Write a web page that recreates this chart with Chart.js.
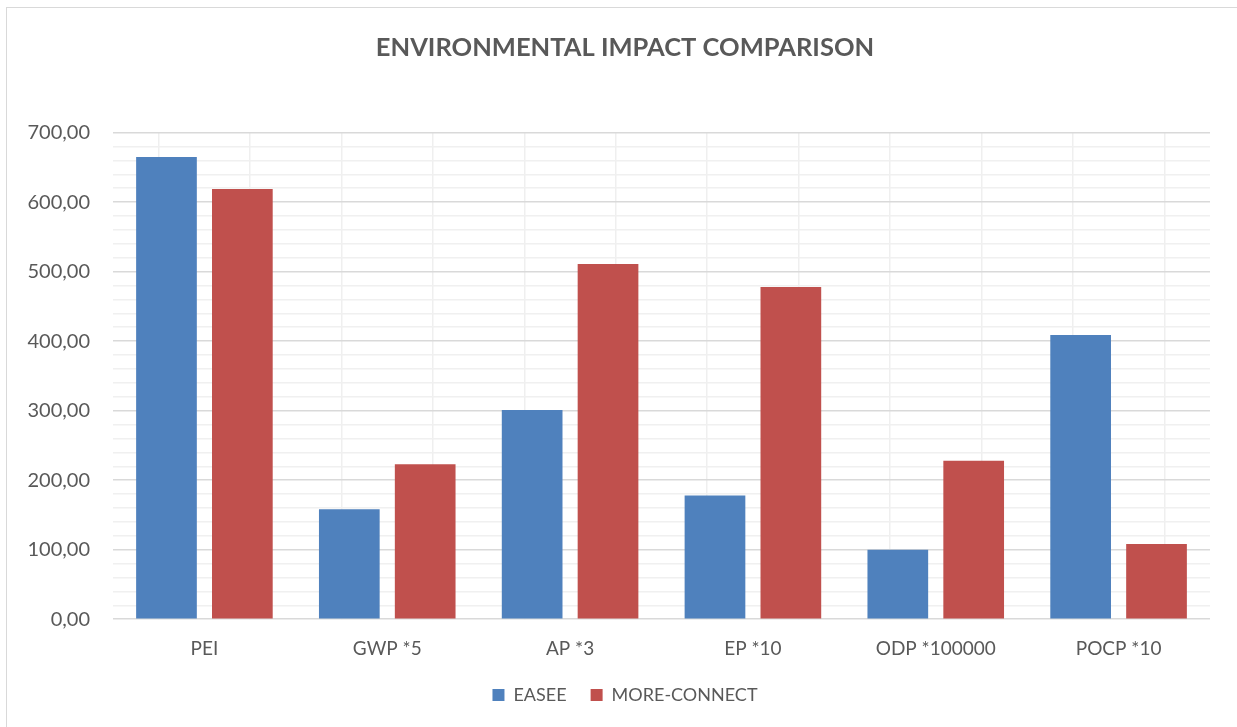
<!DOCTYPE html>
<html>
<head>
<meta charset="utf-8">
<script src="https://cdn.jsdelivr.net/npm/chart.js@4/dist/chart.umd.min.js"></script>
<style>
  html, body { margin: 0; padding: 0; background: #fff; overflow: hidden; }
  #frame { position: absolute; left: 6px; top: 7px; width: 1300px; height: 800px; border: 1px solid #d9d9d9; }
  #wrap { position: absolute; left: 0; top: 0; width: 1237px; height: 727px; }
</style>
</head>
<body>
<div id="frame"></div>
<div id="wrap"><canvas id="chart"></canvas></div>
<script>
  // values
  var categories = ['PEI', 'GWP *5', 'AP *3', 'EP *10', 'ODP *100000', 'POCP *10'];
  var easee = [665, 158, 301, 178, 100, 409];
  var moreConnect = [619, 223, 511, 478, 228, 108];
  var yMin = 0, yMax = 700, yStep = 20, yLabelStep = 100;
  var halfSlots = ['', '', '', '', '', '', '', '', '', '', '', '', ''];

  var textColor = '#595959';
  var fontFamily = 'Lato, "Open Sans", sans-serif';

  // title and legend sit a little right of the canvas centre in the original
  var shiftBlocks = {
    id: 'shiftBlocks',
    afterLayout: function(chart) {
      var dx = 20;
      [chart.titleBlock, chart.legend].forEach(function(b) {
        if (b) { b.left += dx; b.right += dx; }
      });
    }
  };

  new Chart(document.getElementById('chart'), {
    type: 'bar',
    data: {
      labels: categories,
      datasets: [{
        label: 'EASEE',
        data: easee,
        backgroundColor: '#4F81BD',
        categoryPercentage: 0.83,
        barPercentage: 0.8
      }, {
        label: 'MORE-CONNECT',
        data: moreConnect,
        backgroundColor: '#C0504D',
        categoryPercentage: 0.83,
        barPercentage: 0.8
      }]
    },
    plugins: [shiftBlocks],
    options: {
      responsive: true,
      maintainAspectRatio: false,
      animation: false,
      layout: { padding: { left: 0, right: 27, top: 0, bottom: 13 } },
      plugins: {
        tooltip: { enabled: false },
        title: {
          display: true,
          text: 'ENVIRONMENTAL IMPACT COMPARISON',
          color: textColor,
          font: { family: fontFamily, size: 25.5, weight: 'bold' },
          padding: { top: 32, bottom: 70 }
        },
        legend: {
          position: 'bottom',
          labels: {
            color: textColor,
            font: { family: fontFamily, size: 18 },
            boxWidth: 12,
            boxHeight: 12,
            padding: 24
          }
        }
      },
      scales: {
        x: {
          grid: { display: false, drawTicks: false },
          border: { display: false },
          ticks: {
            color: textColor,
            font: { family: fontFamily, size: 19 },
            padding: 18
          },
          afterFit: function(scale) { scale.height = scale.height - 16; }
        },
        x2: {
          type: 'category',
          position: 'top',
          labels: halfSlots,
          offset: false,
          grid: { color: '#efefef', lineWidth: 1.5, drawTicks: false },
          border: { display: false },
          ticks: { display: false }
        },
        y: {
          min: yMin,
          max: yMax,
          border: { display: false },
          grid: {
            drawTicks: false,
            lineWidth: 1.5,
            color: function(ctx) {
              return ctx.tick && ctx.tick.value % yLabelStep === 0 ? '#d9d9d9' : '#f0f0f0';
            }
          },
          ticks: {
            stepSize: yStep,
            maxTicksLimit: 100,
            autoSkip: false,
            color: textColor,
            font: { family: fontFamily, size: 20 },
            padding: 23,
            callback: function(value) {
              if (value % yLabelStep !== 0) return '';
              return value.toFixed(2).replace('.', ',');
            }
          },
          afterFit: function(scale) { scale.width = 113; }
        }
      }
    }
  });
</script>
</body>
</html>
